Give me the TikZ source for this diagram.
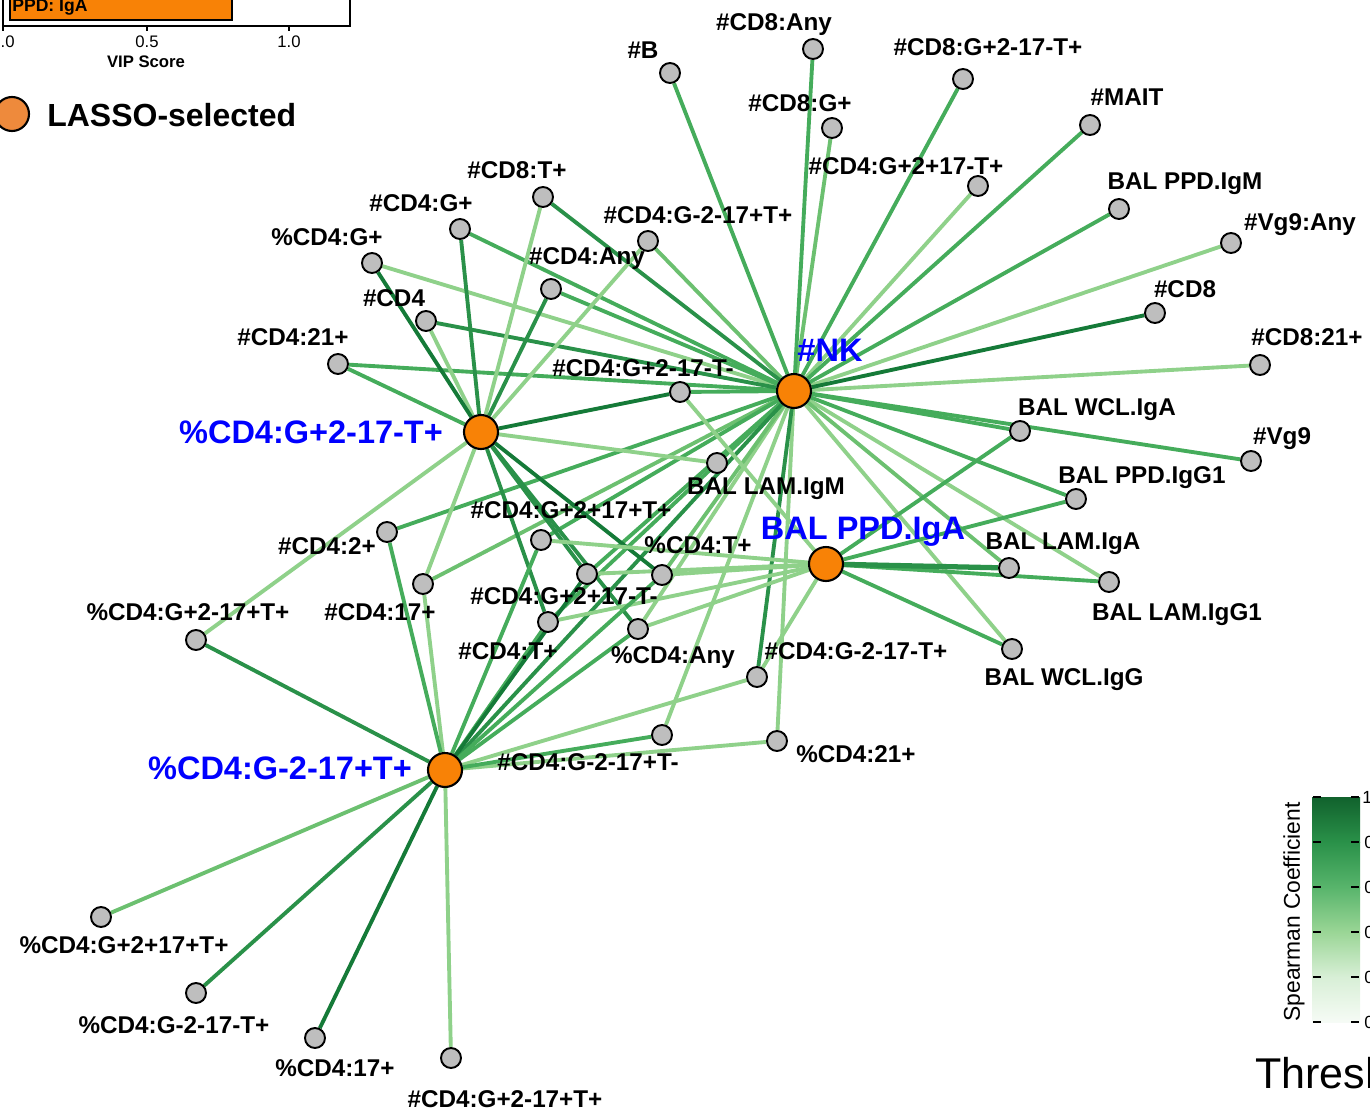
\documentclass[tikz,border=0pt]{standalone}
\usepackage{fontspec}
\setmainfont{Liberation Sans}
\usetikzlibrary{backgrounds}

\definecolor{hubfill}{HTML}{F88206}
\definecolor{legfill}{HTML}{EE8A3C}
\definecolor{nodegray}{HTML}{BEBEBE}
\definecolor{gA}{HTML}{8FD18A}
\definecolor{gB}{HTML}{6CC070}
\definecolor{gC}{HTML}{45AC5B}
\definecolor{gD}{HTML}{2A9149}
\definecolor{gE}{HTML}{157A38}

\begin{document}
\begin{tikzpicture}[
                x = 0.02cm, y = -0.02cm, % one unit = one pixel of the plot
                hub/.style = {circle, draw = black, line width = 1.2pt,
                              fill = hubfill, minimum size = 0.68cm, inner sep = 0pt},
                var/.style = {circle, draw = black, line width = 1.1pt,
                              fill = nodegray, minimum size = 0.4cm, inner sep = 0pt},
                lab/.style = {font = \fontsize{13.8}{15}\selectfont\bfseries,
                              inner sep = 0pt, text height = 9.9pt, text depth = 0pt},
                hublab/.style = {lab, font = \fontsize{18.5}{20}\selectfont\bfseries,
                              text = blue, text height = 13.2pt},
                link/.style = {line width = 2.2pt},
                c1/.style = {link, draw = gA},
                c2/.style = {link, draw = gB},
                c3/.style = {link, draw = gC},
                c4/.style = {link, draw = gD},
                c5/.style = {link, draw = gE}
        ]

        \useasboundingbox (0,0) rectangle (1370,1109);

        % VIP panel (cut off)
        \draw[fill = hubfill, line width = 0.9pt] (10,-6) rectangle (232,20);
        \node[font = \fontsize{10}{12}\selectfont\bfseries, anchor = base west, inner sep = 0pt] (barL) at (12,11) {PPD: IgA};
        \draw[line width = 0.6pt] (3,-6) -- (3,26) -- (350,26) -- (350,-6);
        \foreach \t/\tx in {0.0/3, 0.5/147, 1.0/289} {
            \draw[line width = 0.6pt] (\tx,26) -- (\tx,31);
            \node[font = \fontsize{9.5}{11}\selectfont, inner sep = 0pt] (tick\tx) at (\tx,42) {\t};
        }
        \node[font = \fontsize{9.5}{11}\selectfont\bfseries, inner sep = 0pt] (vipL) at (146,62) {VIP Score};

        % legend
        \node[circle, draw = black, line width = 1.2pt, fill = legfill, minimum size = 0.68cm, inner sep = 0pt] (legdot) at (12,114) {};
        \node[font = \fontsize{18.2}{20}\selectfont\bfseries, anchor = west, inner sep = 0pt] (legL) at (47,115) {LASSO-selected};

        % LASSO-selected features
        \node[hub] (nk) at (794,391) {};
        \node[hub] (gp) at (481,432) {};
        \node[hub] (ppd) at (826,564) {};
        \node[hub] (gm) at (445,770) {};
        \node[hublab] (nkL) at (830,350) {\#NK};
        \node[hublab] (gpL) at (311,432) {\%CD4:G+2-17-T+};
        \node[hublab] (ppdL) at (863,528) {BAL PPD.IgA};
        \node[hublab] (gmL) at (280,768) {\%CD4:G-2-17+T+};

        % correlated features
        \node[var] (nB) at (670,73) {};
        \node[var] (nCDeAny) at (813,49) {};
        \node[var] (nCDeGpmmTp) at (963,79) {};
        \node[var] (nCDeGp) at (832,128) {};
        \node[var] (nMAIT) at (1090,125) {};
        \node[var] (nCDfGppmTp) at (978,186) {};
        \node[var] (balPPDM) at (1119,209) {};
        \node[var] (nVgAny) at (1231,243) {};
        \node[var] (nCDe) at (1155,313) {};
        \node[var] (nCDeTwo) at (1260,365) {};
        \node[var] (balWCLA) at (1020,431) {};
        \node[var] (nVg) at (1251,461) {};
        \node[var] (balPPDG) at (1076,499) {};
        \node[var] (balLAMA) at (1009,568) {};
        \node[var] (balLAMG) at (1109,582) {};
        \node[var] (balWCLG) at (1012,649) {};
        \node[var] (pCDfTwo) at (777,741) {};
        \node[var] (nCDfGmmmTp) at (757,677) {};
        \node[var] (nCDfGmmpTm) at (662,735) {};
        \node[var] (pCDfAny) at (638,629) {};
        \node[var] (pCDfTp) at (662,575) {};
        \node[var] (nCDfTp) at (548,622) {};
        \node[var] (nCDfGppmTm) at (587,574) {};
        \node[var] (nCDfGpppTp) at (541,540) {};
        \node[var] (balLAMM) at (717,463) {};
        \node[var] (nCDfGpmmTm) at (680,392) {};
        \node[var] (nCDfTwoP) at (387,532) {};
        \node[var] (nCDfSev) at (423,584) {};
        \node[var] (pCDfGpmpTp) at (196,640) {};
        \node[var] (nCDfTwoOne) at (338,364) {};
        \node[var] (nCDf) at (426,321) {};
        \node[var] (pCDfGp) at (372,263) {};
        \node[var] (nCDfGp) at (460,229) {};
        \node[var] (nCDeTp) at (543,197) {};
        \node[var] (nCDfGmmpTp) at (648,241) {};
        \node[var] (nCDfAny) at (551,289) {};
        \node[var] (pCDfGpppTp) at (101,917) {};
        \node[var] (pCDfGmmmTp) at (196,993) {};
        \node[var] (pCDfSev) at (315,1038) {};
        \node[var] (nCDfGpmpTp) at (451,1058) {};

        \node[lab] (nBL) at (643,50) {\#B};
        \node[lab] (nCDeAnyL) at (774,22) {\#CD8:Any};
        \node[lab] (nCDeGpmmTpL) at (988,47) {\#CD8:G+2-17-T+};
        \node[lab] (nCDeGpL) at (800,103) {\#CD8:G+};
        \node[lab] (nMAITL) at (1127,97) {\#MAIT};
        \node[lab] (nCDfGppmTpL) at (906,166) {\#CD4:G+2+17-T+};
        \node[lab] (balPPDML) at (1185,181) {BAL PPD.IgM};
        \node[lab] (nVgAnyL) at (1300,222) {\#Vg9:Any};
        \node[lab] (nCDeL) at (1185,289) {\#CD8};
        \node[lab, anchor = west] (nCDeTwoL) at (1251,337) {\#CD8:21+};
        \node[lab] (balWCLAL) at (1097,407) {BAL WCL.IgA};
        \node[lab] (nVgL) at (1282,436) {\#Vg9};
        \node[lab] (balPPDGL) at (1142,475) {BAL PPD.IgG1};
        \node[lab] (balLAMAL) at (1063,541) {BAL LAM.IgA};
        \node[lab] (balLAMGL) at (1177,612) {BAL LAM.IgG1};
        \node[lab] (balWCLGL) at (1064,677) {BAL WCL.IgG};
        \node[lab] (pCDfTwoL) at (856,754) {\%CD4:21+};
        \node[lab] (nCDfGmmmTpL) at (856,651) {\#CD4:G-2-17-T+};
        \node[lab] (nCDfGmmpTmL) at (588,762) {\#CD4:G-2-17+T-};
        \node[lab] (pCDfAnyL) at (673,655) {\%CD4:Any};
        \node[lab] (pCDfTpL) at (698,545) {\%CD4:T+};
        \node[lab] (nCDfTpL) at (508,651) {\#CD4:T+};
        \node[lab] (nCDfGppmTmL) at (564,596) {\#CD4:G+2+17-T-};
        \node[lab] (nCDfGpppTpL) at (571,510) {\#CD4:G+2+17+T+};
        \node[lab] (balLAMML) at (766,486) {BAL LAM.IgM};
        \node[lab] (nCDfGpmmTmL) at (643,368) {\#CD4:G+2-17-T-};
        \node[lab] (nCDfTwoPL) at (327,546) {\#CD4:2+};
        \node[lab] (nCDfSevL) at (380,612) {\#CD4:17+};
        \node[lab] (pCDfGpmpTpL) at (188,612) {\%CD4:G+2-17+T+};
        \node[lab] (nCDfTwoOneL) at (293,337) {\#CD4:21+};
        \node[lab] (nCDfL) at (394,298) {\#CD4};
        \node[lab] (pCDfGpL) at (327,237) {\%CD4:G+};
        \node[lab] (nCDfGpL) at (421,203) {\#CD4:G+};
        \node[lab] (nCDeTpL) at (517,170) {\#CD8:T+};
        \node[lab] (nCDfGmmpTpL) at (698,215) {\#CD4:G-2-17+T+};
        \node[lab] (nCDfAnyL) at (587,256) {\#CD4:Any};
        \node[lab] (pCDfGpppTpL) at (124,945) {\%CD4:G+2+17+T+};
        \node[lab] (pCDfGmmmTpL) at (174,1025) {\%CD4:G-2-17-T+};
        \node[lab] (pCDfSevL) at (335,1068) {\%CD4:17+};
        \node[lab] (nCDfGpmpTpL) at (505,1099) {\#CD4:G+2-17+T+};

        \begin{pgfonlayer}{background}
        % edges of #NK
        \foreach \v in {nCDfGppmTp, nVgAny, nCDeTwo, balLAMG, balWCLG, pCDfGp, pCDfAny, nCDfGmmpTm, pCDfTwo}
            \draw[c1] (nk) -- (\v);
        \foreach \v in {nCDeGp, balLAMA, nCDfGmmpTp, nCDfSev, pCDfTp}
            \draw[c2] (nk) -- (\v);
        \foreach \v in {nB, nCDeAny, nCDeGpmmTp, nMAIT, balPPDM, balWCLA, nVg, balPPDG, nCDfGp, nCDfAny, nCDfTwoOne, nCDfGpmmTm, nCDfTwoP, nCDfGppmTm, nCDfTp, nCDfGpppTp}
            \draw[c3] (nk) -- (\v);
        \foreach \v in {nCDeTp, nCDf, gm, nCDfGmmmTp}
            \draw[c4] (nk) -- (\v);
        \draw[c5] (nk) -- (nCDe);

        % edges of %CD4:G+2-17-T+
        \foreach \v in {nCDeTp, nCDf, nCDfGmmpTp, balLAMM, nCDfSev, pCDfGpmpTp}
            \draw[c1] (gp) -- (\v);
        \draw[c3] (gp) -- (nCDfTwoOne);
        \foreach \v in {nCDfGp, nCDfAny, nCDfGppmTm, nCDfTp, pCDfAny}
            \draw[c4] (gp) -- (\v);
        \foreach \v in {pCDfGp, nCDfGpmmTm, pCDfTp}
            \draw[c5] (gp) -- (\v);

        % edges of BAL PPD.IgA
        \foreach \v in {nCDfGpmmTm, nCDfGpppTp, pCDfTp, nCDfGppmTm, nCDfTp, pCDfAny, nCDfGmmmTp}
            \draw[c1] (ppd) -- (\v);
        \foreach \v in {balWCLA, balPPDG, balLAMG, balWCLG}
            \draw[c3] (ppd) -- (\v);
        \draw[c4, line width = 3pt] (ppd) -- (balLAMA);

        % edges of %CD4:G-2-17+T+
        \foreach \v in {nCDfGpmpTp, nCDfSev, nCDfGmmmTp, pCDfTwo}
            \draw[c1] (gm) -- (\v);
        \draw[c2] (gm) -- (pCDfGpppTp);
        \foreach \v in {nCDfTwoP, nCDfGpppTp, nCDfTp, pCDfTp, pCDfAny, nCDfGmmpTm}
            \draw[c3] (gm) -- (\v);
        \foreach \v in {pCDfGmmmTp, pCDfGpmpTp}
            \draw[c4] (gm) -- (\v);
        \foreach \v in {pCDfSev, nCDfGppmTm}
            \draw[c5] (gm) -- (\v);
        \end{pgfonlayer}

        % colour key (cut off)
        \shade[bottom color = gD, top color = gE!80!black] (1312,797) rectangle (1360,842);
        \shade[bottom color = gC!90!white, top color = gD] (1312,842) rectangle (1360,887);
        \shade[bottom color = gA!90!white, top color = gC!90!white] (1312,887) rectangle (1360,932);
        \shade[bottom color = gA!35!white, top color = gA!90!white] (1312,932) rectangle (1360,977);
        \shade[bottom color = gA!8!white, top color = gA!35!white] (1312,977) rectangle (1360,1022);
        \foreach \ty in {797, 842, 887, 932, 977, 1022} {
            \draw[line width = 1pt] (1313,\ty) -- (1321,\ty);
            \draw[line width = 1pt] (1351,\ty) -- (1359,\ty);
        }
        \node[font = \fontsize{10}{12}\selectfont, anchor = west, inner sep = 0pt] (keyTop) at (1362,797) {1};
        \foreach \ty in {842, 887, 932, 977, 1022}
            \node[font = \fontsize{10}{12}\selectfont, anchor = west, inner sep = 0pt] (key\ty) at (1364,\ty) {0};
        \node[font = \fontsize{13}{15}\selectfont, rotate = 90, inner sep = 0pt] (keyL) at (1294,912) {Spearman Coefficient};
        \node[font = \fontsize{24.5}{27}\selectfont, anchor = west, inner sep = 0pt] (threshL) at (1255,1073) {Thresh};

        \end{tikzpicture}
\end{document}
